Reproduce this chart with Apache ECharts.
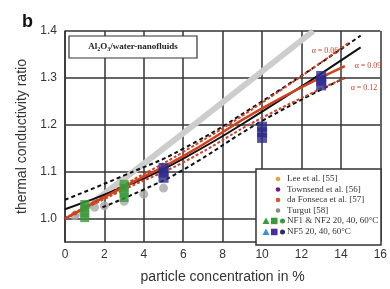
<!DOCTYPE html>
<html>
<head>
<meta charset="utf-8">
<script src="https://cdn.jsdelivr.net/npm/echarts@6/dist/echarts.min.js"></script>
<style>
  html, body { margin: 0; padding: 0; background: #fff; }
  #chart { width: 390px; height: 289px; }
</style>
</head>
<body>
<div id="chart"></div>
<script>
// model curves
const grayLineX = [0.5, 3, 6.25, 12.6];
const grayLineY = [1.005, 1.085, 1.19, 1.40];

const blackSolidX = [0, 3, 6, 10, 15];
const blackSolidY = [1.02, 1.068, 1.128, 1.228, 1.365];

const redSolidX = [0, 3, 6, 10, 14.2];
const redSolidY = [1.0, 1.068, 1.133, 1.235, 1.325];

const blackDashUpX = [0, 3, 6, 10, 15];
const blackDashUpY = [1.04, 1.092, 1.149, 1.25, 1.39];

const redDashUpX = [0, 3, 6, 10, 14.4];
const redDashUpY = [1.0, 1.072, 1.142, 1.247, 1.375];

const redDashLowX = [0, 3, 6, 10, 14.2];
const redDashLowY = [1.0, 1.062, 1.12, 1.215, 1.30];

const blackDashLowX = [1.9, 4, 6, 10, 14.2];
const blackDashLowY = [1.024, 1.062, 1.104, 1.208, 1.30];

// measured points
const turgutX = [0.5, 1.5, 2, 3, 4, 5];
const turgutY = [1.006, 1.024, 1.027, 1.037, 1.052, 1.065];

const fonsecaX = [0.5, 1, 1.5, 2, 2.5, 3.5, 4];
const fonsecaY = [1.012, 1.024, 1.035, 1.046, 1.056, 1.078, 1.088];

const nf12X = [1, 1, 1, 1, 3, 3, 3, 3];
const nf12Y = [1.002, 1.012, 1.022, 1.03, 1.045, 1.055, 1.065, 1.073];

const nf5X = [5, 5, 5, 10, 10, 10, 13, 13, 13];
const nf5Y = [1.087, 1.098, 1.108, 1.172, 1.184, 1.196, 1.284, 1.294, 1.304];

const xTicks = [0, 2, 4, 6, 8, 10, 12, 14, 16];

const zip = (xs, ys) => xs.map((x, i) => [x, ys[i]]);

const chart = echarts.init(document.getElementById('chart'));

const curve = (xs, ys, color, width, type, z) => ({
  type: 'line',
  data: zip(xs, ys),
  smooth: true,
  showSymbol: false,
  silent: true,
  z: z,
  lineStyle: { color: color, width: width, type: type }
});

const serif = '"Liberation Serif", "DejaVu Serif", serif';
const legendRows = [
  { label: 'Lee et al. [55]', color: '#e8a33c' },
  { label: 'Townsend et al. [56]', color: '#6b1f78' },
  { label: 'da Fonseca et al. [57]', color: '#d9532c' },
  { label: 'Turgut [58]', color: '#8a8a8a' }
];

const legendGraphics = [
  { type: 'rect', shape: { x: 256, y: 169, width: 125, height: 76 },
    style: { fill: '#fff', stroke: '#333', lineWidth: 1.5 }, z: 100 }
];
legendRows.forEach((r, i) => {
  const cy = 179 + i * 10.5;
  legendGraphics.push({ type: 'circle', shape: { cx: 278, cy: cy, r: 2.3 }, style: { fill: r.color }, z: 101 });
  legendGraphics.push({ type: 'text', x: 287, y: cy, style: { text: r.label, font: '9px ' + serif, fill: '#333', verticalAlign: 'middle' }, z: 101 });
});
[
  { label: 'NF1 & NF2 20, 40, 60°C', tri: '#3a9a3a', sq: '#3a9a3a', dot: '#3a9a3a' },
  { label: 'NF5 20, 40, 60°C', tri: '#3b8fd6', sq: '#4b2c9c', dot: '#2a2a7a' }
].forEach((r, i) => {
  const cy = 221 + i * 11;
  legendGraphics.push({ type: 'polygon', shape: { points: [[266, cy - 3.5], [262.5, cy + 3], [269.5, cy + 3]] }, style: { fill: r.tri }, z: 101 });
  legendGraphics.push({ type: 'rect', shape: { x: 271, y: cy - 3.3, width: 6.5, height: 6.5 }, style: { fill: r.sq }, z: 101 });
  legendGraphics.push({ type: 'circle', shape: { cx: 282.5, cy: cy, r: 2.5 }, style: { fill: r.dot }, z: 101 });
  legendGraphics.push({ type: 'text', x: 287, y: cy, style: { text: r.label, font: '9px ' + serif, fill: '#333', verticalAlign: 'middle' }, z: 101 });
});

const alphaLabels = [
  { text: 'α = 0.06', x: 325, y: 51 },
  { text: 'α = 0.09', x: 368, y: 66 },
  { text: 'α = 0.12', x: 364, y: 88 }
].map(a => ({
  type: 'text', x: a.x, y: a.y, z: 50,
  style: { text: a.text, font: '8px ' + serif, fill: '#c8452a', align: 'center', verticalAlign: 'middle' }
}));

const option = {
  animation: false,
  backgroundColor: '#fff',
  grid: { left: 65, right: 5, top: 31, bottom: 42 },
  xAxis: {
    type: 'value',
    min: 0, max: 16, interval: 2,
    axisLine: { lineStyle: { color: '#333', width: 1.5 } },
    axisTick: { show: false },
    axisLabel: { color: '#333', fontSize: 12, margin: 7, fontFamily: 'Liberation Sans, Arial, sans-serif',
      formatter: v => (xTicks.indexOf(v) >= 0 ? String(v) : '') },
    splitLine: { show: true, lineStyle: { color: '#333', width: 1.5 } },
    name: 'particle concentration in %',
    nameLocation: 'middle',
    nameGap: 28,
    nameTextStyle: { color: '#333', fontSize: 14, fontFamily: 'Liberation Sans, Arial, sans-serif' }
  },
  yAxis: {
    type: 'value',
    min: 0.95, max: 1.4, interval: 0.05,
    axisLine: { show: true, lineStyle: { color: '#333', width: 1.5 } },
    axisTick: { show: false },
    axisLabel: { color: '#333', fontSize: 12, margin: 8, fontFamily: 'Liberation Sans, Arial, sans-serif',
      formatter: v => (Math.round(v * 100) % 10 === 0 ? v.toFixed(1) : '') },
    splitLine: { show: true, lineStyle: { color: ['rgba(0,0,0,0)', '#333'], width: 1.5 } },
    name: 'thermal conductivity ratio',
    nameLocation: 'middle',
    nameGap: 34,
    nameTextStyle: { color: '#333', fontSize: 14, fontFamily: 'Liberation Sans, Arial, sans-serif' }
  },
  graphic: [
    { type: 'text', x: 22, y: 22, style: { text: 'b', font: 'bold 18px "Liberation Sans", Arial, sans-serif', fill: '#111', verticalAlign: 'middle' } },
    { type: 'rect', shape: { x: 69, y: 36, width: 128, height: 22 }, style: { fill: '#fff', stroke: '#333', lineWidth: 1.2 }, z: 100 },
    { type: 'text', x: 133, y: 47, z: 101,
      style: {
        text: '{b|Al}{s|2}{b|O}{s|3}{b|/water-nanofluids}',
        align: 'center', verticalAlign: 'middle',
        rich: {
          b: { font: 'bold 9px ' + serif, fill: '#222' },
          s: { font: 'bold 6px ' + serif, fill: '#222', padding: [5, 0, 0, 0] }
        }
      } },
    ...alphaLabels,
    ...legendGraphics
  ],
  series: [
    curve(grayLineX, grayLineY, '#cdcdcd', 6, 'solid', 2),
    {
      type: 'scatter', data: zip(turgutX, turgutY), symbol: 'circle', symbolSize: 9, z: 3,
      itemStyle: { color: '#a8a8a8' }
    },
    {
      type: 'scatter', data: zip(fonsecaX, fonsecaY), symbol: 'circle', symbolSize: 5, z: 4,
      itemStyle: { color: '#d9532c' }
    },
    curve(blackDashLowX, blackDashLowY, '#111', 2, [4, 3], 5),
    curve(redDashLowX, redDashLowY, '#c8452a', 2, [3, 2], 5),
    curve(blackDashUpX, blackDashUpY, '#111', 2, [4, 3], 5),
    curve(redDashUpX, redDashUpY, '#c8452a', 2, [3, 2], 5),
    curve(blackSolidX, blackSolidY, '#111', 2, 'solid', 6),
    curve(redSolidX, redSolidY, '#d2411e', 2.5, 'solid', 6),
    {
      type: 'scatter', data: zip(nf12X, nf12Y), symbol: 'rect', symbolSize: 9, z: 8,
      itemStyle: { color: '#3a9a3a' }
    },
    {
      type: 'scatter', data: zip(nf5X, nf5Y), symbol: 'rect', symbolSize: 10, z: 8,
      itemStyle: { color: '#2c2a8c' }
    }
  ]
};

chart.setOption(option);
</script>
</body>
</html>
